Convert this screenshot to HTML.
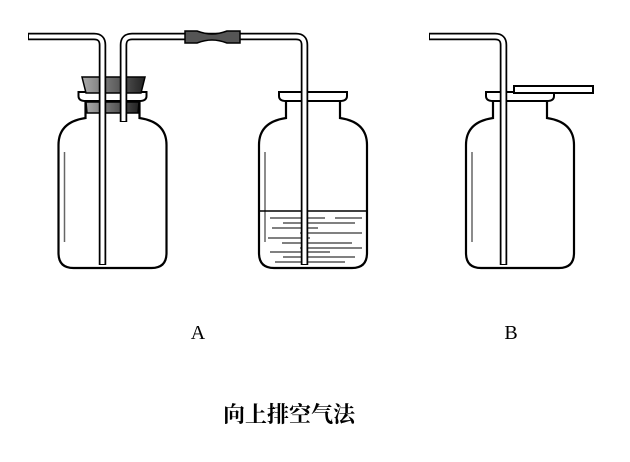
<!DOCTYPE html>
<html><head><style>body{margin:0;background:#fff}svg{display:block}</style></head><body>
<svg width="630" height="462" viewBox="0 0 630 462" xmlns="http://www.w3.org/2000/svg">
<defs>
<linearGradient id="g" x1="0" x2="1"><stop offset="0" stop-color="#aaa"/><stop offset="1" stop-color="#222"/></linearGradient>
<g id="bottle">
<path d="M-27,101 L-27,118 Q-54,122 -54,145 L-54,253 Q-54,268 -39,268 L39,268 Q54,268 54,253 L54,145 Q54,122 27,118 L27,101" fill="#fff" stroke="#000" stroke-width="2.2"/>
<path d="M-27,101 Q-34,101 -34,96 L-34,92 L34,92 L34,96 Q34,101 27,101 Z" fill="#fff" stroke="#000" stroke-width="2"/>
<line x1="-48" y1="152" x2="-48" y2="242" stroke="#666" stroke-width="1.5"/>
</g>
</defs>
<use href="#bottle" x="112.5"/>
<path d="M82,77 L145,77 L141,93 L86,93 Z" fill="url(#g)" stroke="#000" stroke-width="1.5"/>
<path d="M86,102 L139,102 L138,113 L87,113 Z" fill="url(#g)" stroke="#000" stroke-width="1.5"/>
<use href="#bottle" x="313"/>
<line x1="260" y1="211" x2="366" y2="211" stroke="#000" stroke-width="1.5"/>
<g stroke="#000" stroke-width="1">
<line x1="270" y1="218" x2="325" y2="218"/><line x1="335" y1="218" x2="362" y2="218"/>
<line x1="283" y1="223" x2="355" y2="223"/><line x1="272" y1="228" x2="318" y2="228"/>
<line x1="300" y1="233" x2="362" y2="233"/><line x1="268" y1="238" x2="310" y2="238"/>
<line x1="282" y1="243" x2="352" y2="243"/>
<line x1="300" y1="248" x2="362" y2="248"/><line x1="270" y1="252" x2="330" y2="252"/>
<line x1="283" y1="257" x2="355" y2="257"/><line x1="275" y1="262" x2="345" y2="262"/>
</g>
<use href="#bottle" x="520"/>
<rect x="514" y="86" width="79" height="7" fill="#fff" stroke="#000" stroke-width="2"/>
<g fill="none" stroke-linejoin="round">
<path d="M28,36.5 L94,36.5 Q102.5,36.5 102.5,45 L102.5,265" stroke="#000" stroke-width="7.5"/>
<path d="M29,36.5 L94,36.5 Q102.5,36.5 102.5,45 L102.5,264" stroke="#fff" stroke-width="4"/>
<path d="M123.5,122 L123.5,45 Q123.5,36.5 132,36.5 L296,36.5 Q304.5,36.5 304.5,45 L304.5,265" stroke="#000" stroke-width="7.5"/>
<path d="M123.5,121 L123.5,45 Q123.5,36.5 132,36.5 L296,36.5 Q304.5,36.5 304.5,45 L304.5,264" stroke="#fff" stroke-width="4"/>
<path d="M429,36.5 L495,36.5 Q503.5,36.5 503.5,45 L503.5,265" stroke="#000" stroke-width="7.5"/>
<path d="M430,36.5 L495,36.5 Q503.5,36.5 503.5,45 L503.5,264" stroke="#fff" stroke-width="4"/>
</g>
<path d="M185,31 L197,31 Q205,34 212,34 Q219,34 227,31 L240,31 L240,43 L227,43 Q219,40 212,40 Q205,40 197,43 L185,43 Z" fill="#555" stroke="#000" stroke-width="1.5"/>
<text x="198" y="339" font-family="Liberation Serif, serif" font-size="20" text-anchor="middle">A</text>
<text x="511" y="339" font-family="Liberation Serif, serif" font-size="20" text-anchor="middle">B</text>
<text x="289" y="422" font-family="'Liberation Serif', 'Noto Serif CJK SC', serif" font-size="22" font-weight="bold" text-anchor="middle">向上排空气法</text>
</svg>
</body></html>
